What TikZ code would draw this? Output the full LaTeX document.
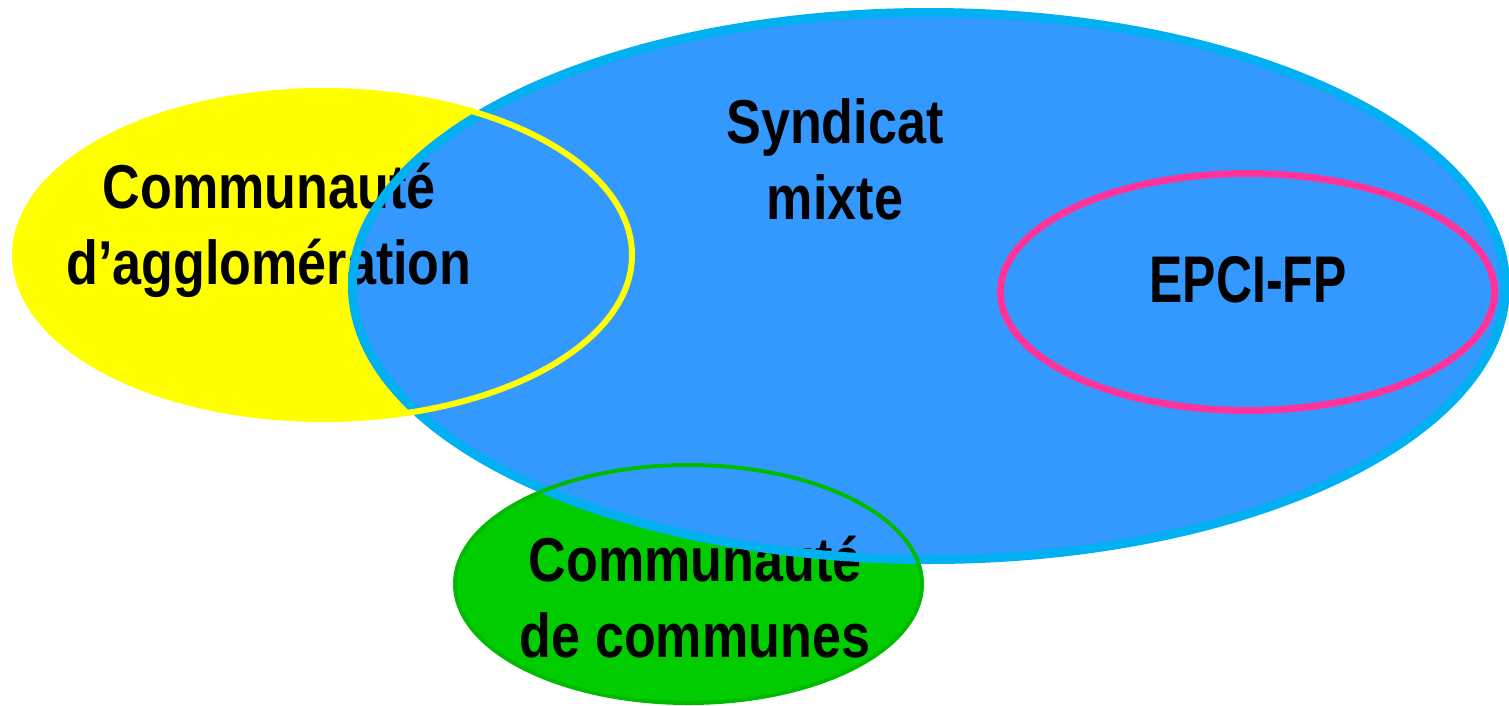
\documentclass[tikz,border=0pt]{standalone}
\usepackage{fontspec}
\newfontfamily\lblfont[FakeStretch=0.84]{Liberation Sans}
\usetikzlibrary{shapes.geometric}

\definecolor{agglofill}{HTML}{FFFF00}
\definecolor{syndfill}{HTML}{3399FF}
\definecolor{syndline}{HTML}{00B0F0}
\definecolor{ccfill}{HTML}{00CC00}
\definecolor{ccline}{HTML}{00BB00}
\definecolor{epciline}{HTML}{FF3399}

\tikzset{
  zone/.style={shape=ellipse, inner sep=0pt, outer sep=0pt},
  agglozone/.style={zone, minimum width=617pt, minimum height=328pt},
  syndzone/.style={zone, minimum width=1153pt, minimum height=547pt},
  cczone/.style={zone, minimum width=467pt, minimum height=238pt},
  epcizone/.style={zone, minimum width=494pt, minimum height=237pt},
  lbl/.style={font=\lblfont\bfseries\fontsize{62}{76}\selectfont, align=center, inner sep=0pt}
}

\begin{document}
\begin{tikzpicture}[x=1pt,y=-1pt]
  \useasboundingbox (0,0) rectangle (1509,705);
  % fills
  \node[agglozone, fill=agglofill] (agglo) at (323.5,255) {};
  \node[cczone, fill=ccfill] (cc) at (688.5,584) {};
  \node[syndzone, fill=syndfill] (synd) at (929,286) {};
  % texts
  \node[lbl] (agglotext) at (269,230) {Communauté\\d’agglomération};
  \node[lbl] (cctext) at (695,597) {Communauté\\de communes};
  \node[lbl] (syndtext) at (835,159) {Syndicat\\mixte};
  % borders on top
  \node[syndzone, draw=syndline, line width=9pt] (syndedge) at (synd) {};
  \node[agglozone, draw=agglofill, line width=6pt] (aggloedge) at (agglo) {};
  \node[cczone, draw=ccline, line width=4pt] (ccedge) at (cc) {};
  \node[epcizone, draw=epciline, line width=7pt] (epci) at (1247.5,292) {};
  \node[lbl, font=\lblfont\bfseries\fontsize{66}{76}\selectfont] (epcitext) at (1248,280) {\scalebox{0.9}[1]{EPCI-FP}};
\end{tikzpicture}
\end{document}
